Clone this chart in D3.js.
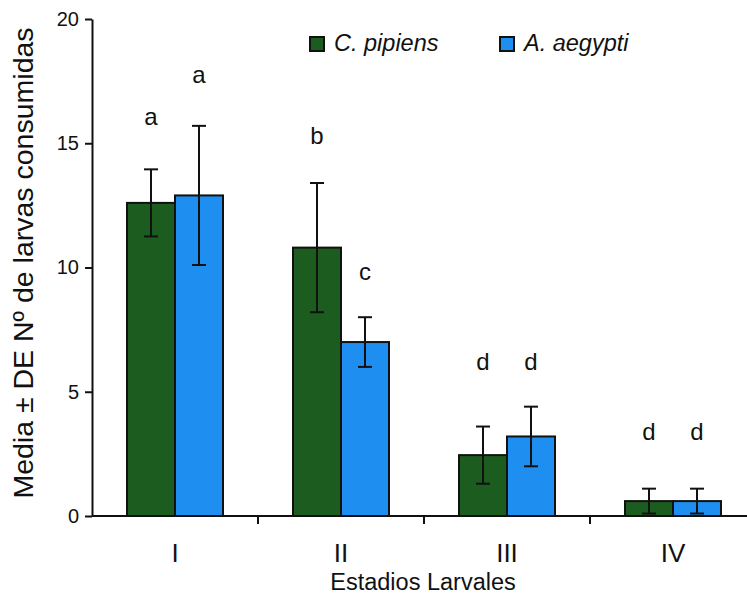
<!DOCTYPE html>
<html lang="es">
<head>
  <meta charset="UTF-8">
  <title>Larvas consumidas por estadio</title>
  <script src="https://d3js.org/d3.v7.min.js"></script>
  <style>
    html, body { margin: 0; padding: 0; background: #fff; }
    svg { display: block; font-family: "Liberation Sans", Arial, sans-serif; }
  </style>
</head>
<body>
<svg id="chart" width="747" height="598"></svg>
<script>
  const stages = ["I", "II", "III", "IV"];
  const species = ["C. pipiens", "A. aegypti"];
  const pipiensMean = [12.6, 10.8, 2.45, 0.6];
  const pipiensSD = [1.35, 2.6, 1.15, 0.5];
  const aegyptiMean = [12.9, 7.0, 3.2, 0.6];
  const aegyptiSD = [2.8, 1.0, 1.2, 0.5];
  const pipiensLetters = ["a", "b", "d", "d"];
  const aegyptiLetters = ["a", "c", "d", "d"];
  // height (in axis units) where each letter sits
  const pipiensLetterAt = [15.73, 14.97, 5.88, 3.06];
  const aegyptiLetterAt = [17.42, 9.5, 5.88, 3.06];
  const yTicks = [0, 5, 10, 15, 20];

  (() => {
    const colors = { "C. pipiens": "#1d5c1f", "A. aegypti": "#1f8ef1" };

    const rows = stages.map((s, i) => ({
      stage: s,
      bars: [
        { sp: species[0], mean: pipiensMean[i], sd: pipiensSD[i], letter: pipiensLetters[i], at: pipiensLetterAt[i] },
        { sp: species[1], mean: aegyptiMean[i], sd: aegyptiSD[i], letter: aegyptiLetters[i], at: aegyptiLetterAt[i] }
      ]
    }));

    const svg = d3.select("#chart");
    const plotLeft = 92, plotRight = 756, plotTop = 19, plotBottom = 516;

    const x = d3.scaleBand().domain(stages).range([plotLeft, plotRight]);
    const groupW = 96;
    const xSub = d3.scaleBand().domain(species)
        .range([x.bandwidth() / 2 - groupW / 2, x.bandwidth() / 2 + groupW / 2]);
    const y = d3.scaleLinear().domain([0, 20]).range([plotBottom, plotTop]);

    // Y axis
    const yAxis = svg.append("g")
        .attr("transform", `translate(${plotLeft},0)`)
        .call(d3.axisLeft(y).tickValues(yTicks).tickSize(7).tickSizeOuter(0).tickPadding(6));
    yAxis.select(".domain").attr("stroke", "#111").attr("stroke-width", 2);
    yAxis.selectAll(".tick line").attr("stroke", "#111").attr("stroke-width", 2);
    yAxis.selectAll(".tick text").attr("font-size", 20).attr("fill", "#111")
        .attr("font-family", "Liberation Sans, Arial, sans-serif");

    // Bars
    const groups = svg.selectAll("g.group")
        .data(rows)
        .enter().append("g")
        .attr("class", "group")
        .attr("transform", d => `translate(${x(d.stage)},0)`);

    groups.selectAll("rect")
        .data(d => d.bars)
        .enter().append("rect")
        .attr("x", d => xSub(d.sp))
        .attr("y", d => y(d.mean))
        .attr("width", xSub.bandwidth())
        .attr("height", d => y(0) - y(d.mean))
        .attr("fill", d => colors[d.sp])
        .attr("stroke", "#111")
        .attr("stroke-width", 2);

    // Error bars
    const cap = 7;
    const cx = d => xSub(d.sp) + xSub.bandwidth() / 2;
    const hi = d => y(d.mean + d.sd);
    const lo = d => y(Math.max(0, d.mean - d.sd));
    const err = groups.selectAll("g.err")
        .data(d => d.bars)
        .enter().append("g")
        .attr("class", "err")
        .attr("stroke", "#111")
        .attr("stroke-width", 2);
    err.append("line")
        .attr("x1", cx).attr("x2", cx)
        .attr("y1", hi).attr("y2", lo);
    err.append("line")
        .attr("x1", d => cx(d) - cap).attr("x2", d => cx(d) + cap)
        .attr("y1", hi).attr("y2", hi);
    err.append("line")
        .attr("x1", d => cx(d) - cap).attr("x2", d => cx(d) + cap)
        .attr("y1", lo).attr("y2", lo);

    // Significance letters
    groups.selectAll("text.letter")
        .data(d => d.bars)
        .enter().append("text")
        .attr("class", "letter")
        .attr("x", cx)
        .attr("y", d => y(d.at))
        .attr("text-anchor", "middle")
        .attr("font-size", 24)
        .attr("fill", "#111")
        .text(d => d.letter);

    // X axis line + boundary ticks
    svg.append("line")
        .attr("x1", plotLeft).attr("x2", 747)
        .attr("y1", plotBottom).attr("y2", plotBottom)
        .attr("stroke", "#111").attr("stroke-width", 2);
    svg.selectAll("line.xtick")
        .data(stages.slice(1))
        .enter().append("line")
        .attr("class", "xtick")
        .attr("x1", d => x(d)).attr("x2", d => x(d))
        .attr("y1", plotBottom).attr("y2", plotBottom + 8)
        .attr("stroke", "#111").attr("stroke-width", 2);
    svg.selectAll("text.stage")
        .data(stages)
        .enter().append("text")
        .attr("class", "stage")
        .attr("x", d => x(d) + x.bandwidth() / 2)
        .attr("y", 562)
        .attr("text-anchor", "middle")
        .attr("font-size", 26)
        .attr("fill", "#111")
        .text(d => d);

    // Axis titles
    svg.append("text")
        .attr("x", 423)
        .attr("y", 590)
        .attr("text-anchor", "middle")
        .attr("font-size", 23.5)
        .attr("fill", "#111")
        .text("Estadios Larvales");

    svg.append("text")
        .attr("transform", "translate(33,263) rotate(-90)")
        .attr("text-anchor", "middle")
        .attr("font-size", 28.5)
        .attr("fill", "#111")
        .text("Media ± DE Nº de larvas consumidas");

    // Legend
    const legendX = [310, 500];
    const legend = svg.selectAll("g.legend")
        .data(species)
        .enter().append("g")
        .attr("class", "legend")
        .attr("transform", (d, i) => `translate(${legendX[i]},37)`);
    legend.append("rect")
        .attr("width", 14).attr("height", 14)
        .attr("fill", d => colors[d])
        .attr("stroke", "#111").attr("stroke-width", 2);
    legend.append("text")
        .attr("x", 24)
        .attr("y", 14)
        .attr("font-size", 23.5)
        .attr("font-style", "italic")
        .attr("fill", "#111")
        .text(d => d);
  })();
</script>
</body>
</html>
